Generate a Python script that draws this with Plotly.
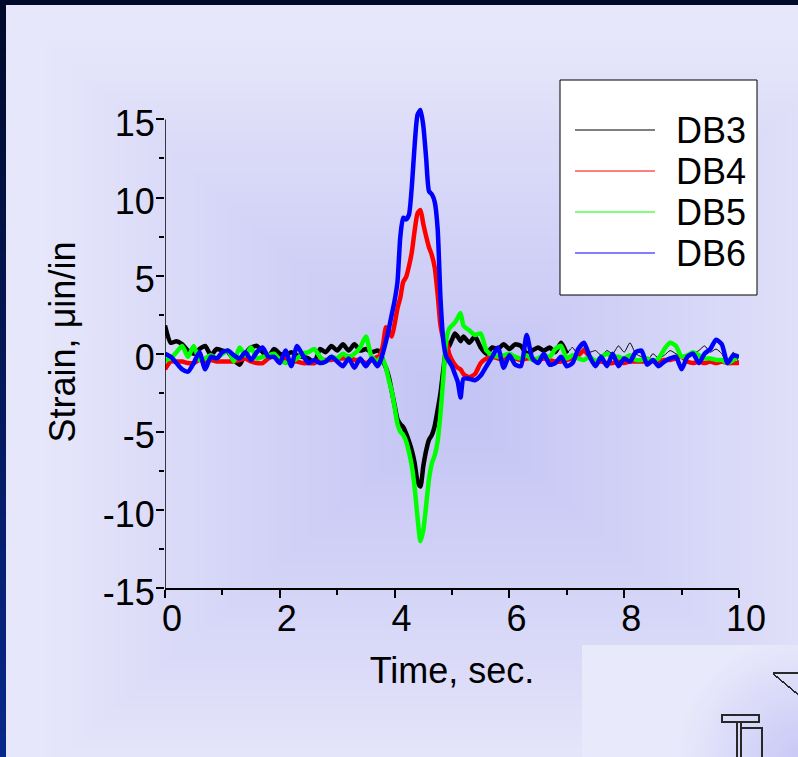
import base64, struct, zlib
import numpy as np
import plotly.graph_objects as go

# ---------------- data ----------------
T = [0.0, 0.1, 0.2, 0.3, 0.4, 0.5, 0.6, 0.7, 0.8, 0.9,
     1.0, 1.1, 1.2, 1.3, 1.4, 1.5, 1.6, 1.7, 1.8, 1.9,
     2.0, 2.1, 2.2, 2.3, 2.4, 2.5, 2.6, 2.7, 2.8, 2.9,
     3.0, 3.1, 3.2, 3.3, 3.4, 3.5, 3.6, 3.7,
     3.75, 3.8, 3.85, 3.9, 3.95, 4.0, 4.05, 4.1, 4.15, 4.2,
     4.25, 4.3, 4.35, 4.4, 4.45, 4.5, 4.55, 4.6, 4.65, 4.7,
     4.75, 4.8, 4.85, 4.9, 4.95, 5.0, 5.05, 5.1, 5.15, 5.2,
     5.3, 5.4, 5.5, 5.6, 5.7, 5.8, 5.9,
     6.0, 6.1, 6.2, 6.3, 6.4, 6.5, 6.6, 6.7, 6.8, 6.9,
     7.0, 7.1, 7.2, 7.3, 7.4, 7.5, 7.6, 7.7, 7.8, 7.9,
     8.0, 8.1, 8.2, 8.3, 8.4, 8.5, 8.6, 8.7, 8.8, 8.9,
     9.0, 9.1, 9.2, 9.3, 9.4, 9.5, 9.6, 9.7, 9.8, 9.9, 10.0]

DB3 = [1.8, 0.7, 0.8, 0.6, 0.2, 0.0, 0.3, 0.5, -0.1, 0.3,
       0.2, 0.1, -0.4, -0.7, 0.0, 0.4, 0.5, 0.1, -0.2, 0.3,
       0.0, -0.1, 0.1, -0.1, -0.2, -0.3, -0.6, 0.3, 0.1, 0.5,
       0.2, 0.6, 0.2, 0.6, 0.2, 0.3, 0.1, 0.2,
       0.1, -0.5, -0.9, -1.5, -2.4, -3.3, -4.2, -4.5, -4.7, -5.1,
       -5.6, -6.2, -7.0, -8.2, -8.5, -7.2, -6.2, -5.5, -5.2, -4.6,
       -3.6, -2.5, -1.0, 0.3, 0.5, 0.9, 1.3, 1.1, 0.8, 1.1,
       0.7, 1.1, 0.4, 0.0, 0.4, 0.3, 0.6,
       0.3, 0.6, 0.5, 0.0, 0.2, 0.4, 0.2, 0.4, 0.1, 0.7,
       0.0, 0.4, -0.1, 0.4, 0.1, 0.2, -0.1, 0.2, 0.0, 0.5,
       0.1, 0.7, 0.0, -0.2, -0.5, 0.0, -0.3, -0.1, 0.2, 0.0,
       -0.2, -0.3, 0.0, 0.2, 0.5, 0.1, 0.3, 0.0, -0.7, 0.1, -0.6]

DB4 = [-1.0, -0.5, -0.5, -0.5, -0.6, -0.6, -0.4, -0.5, -0.4, -0.5,
       -0.5, -0.5, -0.5, -0.4, -0.3, -0.5, -0.6, -0.6, -0.3, -0.2,
       -0.3, -0.3, -0.5, -0.5, -0.6, -0.6, -0.6, -0.4, -0.4, -0.4,
       -0.3, -0.3, -0.2, -0.4, -0.4, -0.6, -0.4, -0.2,
       -0.1, 0.6, 1.7, 1.4, 1.1, 1.9, 2.9, 3.6, 4.6, 4.9,
       5.6, 6.5, 7.9, 9.0, 9.2, 8.3, 7.5, 6.8, 6.3, 5.5,
       3.8, 1.8, 1.0, 0.8, 0.0, -0.4, -0.7, -0.9, -1.0, -1.3,
       -1.5, -1.3, -0.6, -0.3, -0.2, -0.3, -0.4,
       -0.2, -0.3, -0.4, -0.3, -0.3, -0.4, -0.3, -0.4, -0.5, -0.5,
       -0.4, -0.3, -0.1, 0.2, -0.2, -0.5, -0.5, -0.6, -0.6, -0.5,
       -0.6, -0.5, -0.5, -0.5, -0.5, -0.5, -0.5, -0.4, -0.4, -0.3,
       -0.2, -0.5, -0.6, -0.5, -0.6, -0.5, -0.6, -0.5, -0.6, -0.6, -0.6]

DB5 = [-0.4, -0.3, 0.1, 0.5, -0.2, 0.5, -0.4, -0.3, -0.1, -0.3,
       0.0, 0.2, -0.5, 0.4, -0.1, 0.4, -0.3, -0.2, -0.1, 0.0,
       -0.4, -0.6, -0.5, -0.3, 0.0, 0.1, 0.3, -0.2, -0.5, -0.2,
       -0.3, 0.0, -0.2, 0.0, 0.4, 1.1, -0.2, -0.5,
       -0.3, -0.4, -0.9, -1.7, -2.4, -3.4, -4.5, -5.0, -5.2, -5.6,
       -6.3, -7.2, -8.6, -10.5, -12.0, -11.3, -9.7, -8.0, -7.0, -6.5,
       -5.6, -3.8, -1.5, 0.9, 1.6, 1.8, 2.0, 2.3, 2.6, 1.8,
       1.5, 1.2, 1.3, 0.2, -0.1, -0.2, -0.1,
       0.0, -0.2, -0.3, -0.1, -0.4, -0.3, -0.1, -0.2, 0.3, 0.5,
       -0.3, -0.1, -0.3, -0.4, -0.2, -0.5, -0.2, 0.0, -0.2, -0.2,
       -0.3, -0.1, -0.4, -0.4, -0.3, -0.5, -0.3, 0.3, 0.7, 0.5,
       -0.2, -0.1, 0.1, -0.1, -0.3, -0.3, -0.4, -0.4, -0.6, -0.4, -0.1]

DB6 = [0.0, -0.2, -0.6, -1.0, -1.15, -0.6, 0.1, -1.0, -0.2, -0.3,
       0.1, 0.2, -0.1, -0.3, 0.1, -0.4, 0.1, 0.4, -0.2, -0.2,
       -0.6, 0.2, -0.8, 0.5, -0.1, -0.6, -0.4, -0.6, -0.5, -0.2,
       -0.5, -0.8, -0.3, -0.9, -0.3, -0.8, -0.3, -0.8,
       -0.5, 0.1, 0.8, 1.6, 2.5, 3.4, 4.6, 7.5, 8.7, 8.6,
       8.9, 10.7, 13.4, 15.3, 15.6, 14.6, 12.5, 10.4, 10.2, 9.7,
       8.0, 3.5, 0.8, -0.2, -0.5, -0.8, -1.3, -1.8, -2.8, -1.6,
       -1.6, -1.7, -1.4, -0.8, -0.2, 0.4, -0.9,
       -0.1, -0.7, -0.8, 1.2, -0.3, -0.6, 0.0, -0.7, -0.6, -0.2,
       -0.8, -0.6, 0.3, 0.7, -0.2, -0.8, -0.2, -0.8, 0.0, -0.8,
       -0.3, -0.5, 0.1, 0.2, -0.7, -0.4, -0.8, -0.5, -0.3, -0.2,
       -1.0, -0.2, 0.0, -0.6, 0.0, 0.3, 0.9, 0.6, -0.6, -0.1, -0.2]

NAMES = ["DB3", "DB4", "DB5", "DB6"]
COLORS = ["#000000", "#FF0000", "#00FF00", "#0000FF"]
X_TITLE = "Time, sec."
Y_TITLE = "Strain, \u03bcin/in"
Y_TICKS = [-15, -10, -5, 0, 5, 10, 15]
Y_TICKTEXT = ["-15", "-10", "-5", "0", "5", "10", "15"]
Y_MINOR = [-12.5, -7.5, -2.5, 2.5, 7.5, 12.5]
Y_MIN, Y_MAX = -15, 15          # drawn extent of the y axis
Y_HEADROOM = 16.5               # plot area reaches a little above 15 so the peak is not clipped
THIN_FROM = 7.0   # DB3 is drawn thin from this time on

# ---------------- geometry ----------------
W, H = 798, 757
ML, MR, MT, MB = 165, 59, 96, 169
PW, PH = W - ML - MR, H - MT - MB


def px(x):
    return (x - ML) / PW


def py(y):
    return 1 - (y - MT) / PH


# ---------------- slide background (pure styling) ----------------
def make_background():
    yy, xx = np.mgrid[0:H, 0:W].astype(float)
    edge = np.array([231.0, 231.0, 251.0])
    centre = np.array([196.0, 196.0, 245.0])
    dx = np.abs(xx - 455) / 410
    dy = np.abs(yy - 405) / 365
    w = np.clip(1 - np.maximum(dx, dy), 0, 1) ** 0.9
    img = edge + (centre - edge) * w[..., None]
    inset = (xx >= 582) & (yy >= 645)
    base = np.array([233.0, 233.0, 252.0])
    d = np.sqrt((798 - xx) ** 2 + (757 - yy) ** 2)
    w2 = np.clip(1 - d / 120, 0, 1) * 0.85
    blue = np.array([195.0, 195.0, 245.0])
    ins = base + (blue - base) * w2[..., None]
    img[inset] = ins[inset]
    img[0:5, :, :] = [0, 10, 42]
    t = np.linspace(0, 1, H)[:, None]
    left = np.array([0, 10, 42]) * (1 - t) + np.array([8, 40, 140]) * t
    for c in range(6):
        img[:, c, :] = left
    ink = [40, 40, 40]

    def hline(y, x0, x1):
        img[y:y + 2, x0:x1, :] = ink

    def vline(x, y0, y1):
        img[y0:y1, x:x + 2, :] = ink
    hline(714, 721, 760); hline(721, 721, 760); vline(721, 714, 723); vline(758, 714, 723)
    vline(736, 722, 757); vline(740, 722, 757)
    hline(727, 741, 763); vline(761, 727, 757)
    hline(672, 773, 798)
    for x in range(773, 798):
        y = int(round(673 + (x - 773) * 21 / 25))
        img[y:y + 2, x, :] = ink
    img = np.clip(img, 0, 255).astype(np.uint8)
    raw = b"".join(b"\x00" + img[r].tobytes() for r in range(H))

    def chunk(tag, data):
        c = struct.pack(">I", len(data)) + tag + data
        return c + struct.pack(">I", zlib.crc32(tag + data) & 0xFFFFFFFF)
    png = b"\x89PNG\r\n\x1a\n" + chunk(b"IHDR", struct.pack(">IIBBBBB", W, H, 8, 2, 0, 0, 0)) \
        + chunk(b"IDAT", zlib.compress(raw, 9)) + chunk(b"IEND", b"")
    return "data:image/png;base64," + base64.b64encode(png).decode()


# ---------------- figure ----------------
fig = go.Figure()
i7 = T.index(THIN_FROM)
series = [DB3, DB4, DB5, DB6]
LINE = dict(shape="spline", smoothing=0.6)
LW = 4.5

fig.add_trace(go.Scatter(x=T[:i7 + 1], y=DB3[:i7 + 1], mode="lines", name=NAMES[0],
                         line=dict(color=COLORS[0], width=LW, **LINE)))
fig.add_trace(go.Scatter(x=T[i7:], y=DB3[i7:], mode="lines", name=NAMES[0],
                         line=dict(color=COLORS[0], width=1, **LINE)))
for name, vals, col in zip(NAMES[1:], series[1:], COLORS[1:]):
    fig.add_trace(go.Scatter(x=T, y=vals, mode="lines", name=name,
                             line=dict(color=col, width=LW, **LINE)))

FONT = "Liberation Sans, Arial, Helvetica, sans-serif"
axis_common = dict(ticks="outside", ticklen=8, tickwidth=1.5, tickcolor="black",
                   showgrid=False, zeroline=False, tickfont=dict(size=36, color="black"))

fig.update_layout(
    width=W, height=H,
    margin=dict(l=ML, r=MR, t=MT, b=MB, autoexpand=False),
    paper_bgcolor="#E7E7FB", plot_bgcolor="rgba(0,0,0,0)",
    font=dict(family=FONT, size=36, color="black"),
    showlegend=False,
    xaxis=dict(range=[0, 10], tickmode="linear", tick0=0, dtick=2,
               showline=True, linecolor="black", linewidth=1.5,
               ticklabelstandoff=-10, ticklabelshift=7,
               minor=dict(tick0=0, dtick=1, ticks="outside", ticklen=5, tickwidth=1.5,
                          tickcolor="black", showgrid=False),
               title=dict(text=X_TITLE, standoff=20, font=dict(size=36)),
               **axis_common),
    yaxis=dict(range=[Y_MIN, Y_HEADROOM], tickmode="array", tickvals=Y_TICKS,
               ticktext=Y_TICKTEXT, showline=False,
               ticklabelstandoff=-6, ticklabelshift=4,
               minor=dict(tickmode="array", tickvals=Y_MINOR,
                          ticks="outside", ticklen=5, tickwidth=1.5,
                          tickcolor="black", showgrid=False),
               title=dict(text=Y_TITLE, standoff=16, font=dict(size=36)),
               **axis_common),
    images=[dict(source=make_background(), xref="paper", yref="paper",
                 x=px(0), y=py(0), sizex=W / PW, sizey=H / PH,
                 xanchor="left", yanchor="top", sizing="stretch", layer="below")],
)

# y axis line only from -15 to 15 (like the original frame)
shapes = [dict(type="line", xref="x", yref="y", x0=0, x1=0, y0=Y_MIN, y1=Y_MAX,
               line=dict(color="black", width=1.5), layer="above")]

# legend (boxed key with long sample lines, like the original)
LEG_Y = [130, 171, 212, 253]
shapes.append(dict(type="rect", xref="paper", yref="paper",
                   x0=px(560), x1=px(757), y0=py(295), y1=py(80),
                   fillcolor="white", line=dict(color="black", width=1)))
annotations = []
for name, col, yy in zip(NAMES, COLORS, LEG_Y):
    shapes.append(dict(type="line", xref="paper", yref="paper",
                       x0=px(575), x1=px(655), y0=py(yy), y1=py(yy),
                       line=dict(color=col, width=1.2)))
    annotations.append(dict(text=name, xref="paper", yref="paper", x=px(674), y=py(yy),
                            xanchor="left", yanchor="middle", showarrow=False,
                            font=dict(size=36, color="black", family=FONT)))
fig.update_layout(shapes=shapes, annotations=annotations)

fig.write_html("out.html", config={"displayModeBar": False},
               post_script=["document.body.style.margin='0px';"])
